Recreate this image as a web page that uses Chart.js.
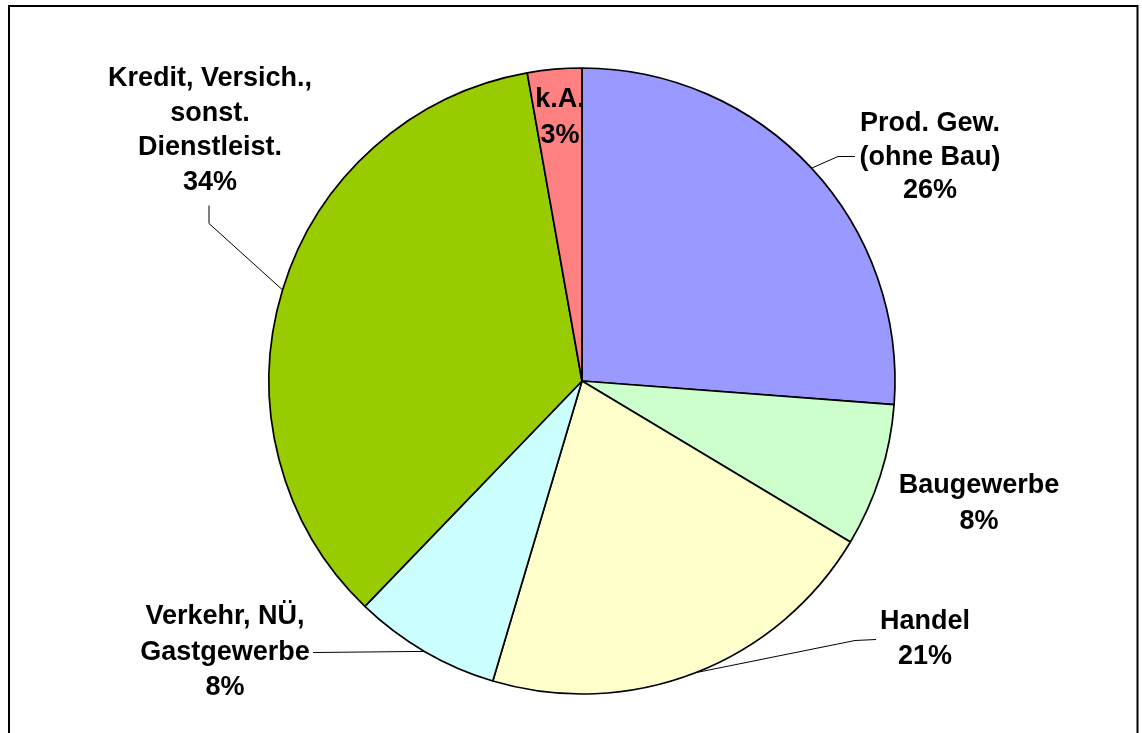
<!DOCTYPE html>
<html>
<head>
<meta charset="utf-8">
<script src="https://cdn.jsdelivr.net/npm/chart.js@4/dist/chart.umd.min.js"></script>
<style>
  html, body { margin: 0; padding: 0; background: #ffffff; }
  canvas { display: block; }
</style>
</head>
<body>
<canvas id="c" width="1142" height="733"></canvas>
<script>
// ---- data ----
const categories = ["Prod. Gew. (ohne Bau)", "Baugewerbe", "Handel", "Verkehr, NÜ, Gastgewerbe", "Kredit, Versich., sonst. Dienstleist.", "k.A."];
const labelLines = [
  ["Prod. Gew.", "(ohne Bau)"],
  ["Baugewerbe"],
  ["Handel"],
  ["Verkehr, NÜ,", "Gastgewerbe"],
  ["Kredit, Versich.,", "sonst.", "Dienstleist."],
  ["k.A."]
];
const values = [26.2, 7.4, 21.0, 7.6, 35.0, 2.8];
const pctLabels = ["26%", "8%", "21%", "8%", "34%", "3%"];
const colors = ["#9999FF", "#CCFFCC", "#FFFFCC", "#CCFFFF", "#99CC00", "#FF8080"];

// ---- label layout (offsets from pie centre, at reference radius 313) ----
const REF_R = 313;
const labelLayout = [
  { xs: [348, 348, 348], y0: -257, lh: 33.5, leader: [[256, -225], [273, -225]] },
  { xs: [397, 397], y0: 105, lh: 36, leader: null },
  { xs: [343, 343], y0: 241, lh: 35, leader: [[273, 259], [294, 258]] },
  { xs: [-357, -357, -357], y0: 236, lh: 35.5, leader: [[-269, 271]] },
  { xs: [-372, -372, -372, -372], y0: -302, lh: 34.5, leader: [[-373, -158], [-373, -176]] },
  { xs: [-22, -22], y0: -281, lh: 36, leader: null }
];

const labelPlugin = {
  id: 'pieLabels',
  afterDraw(chart) {
    const ctx = chart.ctx;
    const meta = chart.getDatasetMeta(0);
    ctx.save();
    // frame
    ctx.strokeStyle = '#000000';
    ctx.lineWidth = 2;
    ctx.strokeRect(9, 6, 1128.5, 740);
    meta.data.forEach((arc, i) => {
      const p = arc.getProps(['x', 'y', 'startAngle', 'endAngle', 'outerRadius'], true);
      const s = p.outerRadius / REF_R;
      const lay = labelLayout[i];
      const mid = (p.startAngle + p.endAngle) / 2;
      if (lay.leader) {
        ctx.beginPath();
        ctx.strokeStyle = '#000000';
        ctx.lineWidth = 1;
        ctx.moveTo(p.x + Math.cos(mid) * p.outerRadius, p.y + Math.sin(mid) * p.outerRadius);
        lay.leader.forEach(pt => ctx.lineTo(p.x + pt[0] * s, p.y + pt[1] * s + 0.5));
        ctx.stroke();
      }
      const lines = labelLines[i].concat([pctLabels[i]]);
      ctx.fillStyle = '#000000';
      ctx.font = 'bold 27px "Liberation Sans", Arial, sans-serif';
      ctx.textAlign = 'center';
      ctx.textBaseline = 'middle';
      lines.forEach((t, k) => {
        ctx.fillText(t, p.x + lay.xs[k] * s, p.y + (lay.y0 + k * lay.lh) * s);
      });
    });
    ctx.restore();
  }
};

new Chart(document.getElementById('c'), {
  type: 'pie',
  data: {
    labels: categories,
    datasets: [{
      data: values,
      backgroundColor: colors,
      borderColor: '#000000',
      borderWidth: 1.7
    }]
  },
  options: {
    responsive: false,
    animation: false,
    radius: 313,
    layout: { padding: { left: 22, top: 68, right: 0, bottom: 39 } },
    plugins: {
      legend: { display: false },
      tooltip: { enabled: false }
    }
  },
  plugins: [labelPlugin]
});
</script>
</body>
</html>
